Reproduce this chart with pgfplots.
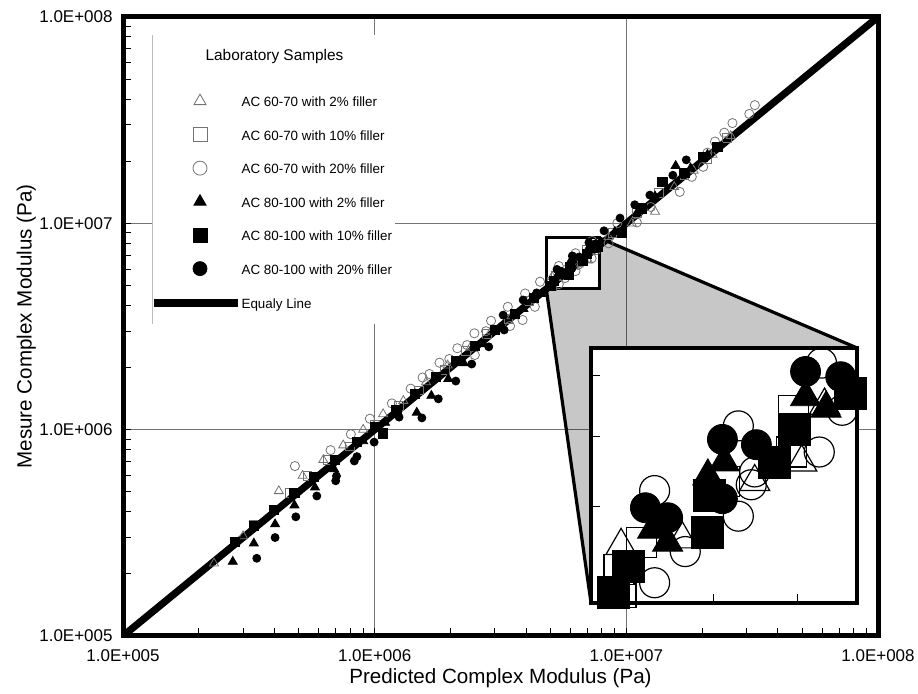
\documentclass[border=0pt]{standalone}
\usepackage{pgfplots}
\usepackage{pgfplotstable}
\pgfplotsset{compat=1.18}
\usepackage{fontspec}
\setmainfont{Liberation Sans}

% AC 60-70 with 2% filler (open triangles)
\pgfplotstableread{
x y
2.30e5 2.25e5
3.00e5 3.05e5
4.16e5 5.04e5
5.17e5 5.98e5
6.25e5 7.13e5
7.50e5 8.40e5
9.00e5 1.00e6
1.08e6 1.19e6
1.30e6 1.38e6
1.60e6 1.70e6
1.95e6 2.05e6
2.40e6 2.50e6
2.90e6 3.00e6
3.50e6 3.55e6
4.30e6 4.40e6
5.07e6 5.50e6
5.67e6 5.58e6
6.47e6 6.33e6
7.05e6 6.61e6
7.35e6 7.49e6
8.50e6 8.60e6
1.05e7 1.00e7
1.30e7 1.14e7
1.55e7 1.50e7
1.85e7 1.80e7
2.20e7 2.15e7
2.60e7 2.65e7
}\tA
% AC 60-70 with 10% filler (open squares)
\pgfplotstableread{
x y
3.30e5 3.45e5
4.60e5 4.94e5
5.40e5 5.98e5
6.50e5 7.13e5
8.00e5 8.30e5
1.00e6 1.05e6
1.25e6 1.30e6
1.50e6 1.55e6
1.90e6 1.95e6
2.30e6 2.40e6
2.80e6 2.90e6
3.40e6 3.45e6
4.10e6 4.20e6
5.05e6 5.22e6
5.07e6 4.96e6
5.26e6 5.54e6
6.12e6 6.33e6
6.92e6 6.76e6
6.95e6 7.41e6
8.80e6 9.00e6
1.10e7 1.12e7
1.35e7 1.40e7
1.70e7 1.72e7
2.10e7 2.05e7
2.50e7 2.60e7
}\tB
% AC 60-70 with 20% filler (open circles)
\pgfplotstableread{
x y
4.82e5 6.66e5
6.68e5 7.96e5
8.04e5 9.50e5
9.57e5 1.13e6
1.17e6 1.34e6
1.39e6 1.58e6
1.55e6 1.79e6
1.65e6 1.86e6
1.81e6 2.11e6
1.98e6 2.20e6
2.13e6 2.48e6
2.33e6 2.57e6
2.49e6 2.93e6
2.50e6 2.30e6
2.77e6 3.00e6
2.90e6 3.37e6
3.38e6 3.94e6
3.45e6 3.18e6
3.87e6 3.40e6
3.96e6 4.57e6
4.33e6 3.94e6
4.54e6 5.21e6
5.39e6 5.07e6
5.39e6 6.21e6
5.70e6 5.43e6
6.28e6 5.87e6
6.28e6 7.16e6
6.43e6 6.29e6
6.47e6 6.47e6
7.28e6 6.76e6
7.31e6 8.22e6
7.59e6 7.41e6
8.50e6 8.00e6
9.20e6 1.00e7
1.10e7 1.01e7
1.25e7 1.20e7
1.63e7 1.42e7
1.82e7 1.68e7
2.02e7 1.88e7
2.10e7 2.20e7
2.25e7 2.49e7
2.45e7 2.75e7
2.64e7 3.06e7
3.08e7 3.39e7
3.24e7 3.74e7
}\tC
% AC 80-100 with 2% filler (filled triangles)
\pgfplotstableread{
x y
2.73e5 2.29e5
3.31e5 2.81e5
4.02e5 3.48e5
4.80e5 4.30e5
5.79e5 5.25e5
6.90e5 6.43e5
9.00e5 8.80e5
1.10e6 1.08e6
1.47e6 1.21e6
1.68e6 1.46e6
1.96e6 1.76e6
2.26e6 2.10e6
2.70e6 2.60e6
3.20e6 3.15e6
3.90e6 3.85e6
4.60e6 4.55e6
5.37e6 5.70e6
5.52e6 5.54e6
5.94e6 6.41e6
6.12e6 6.61e6
7.10e6 7.63e6
7.37e6 7.44e6
9.00e6 9.10e6
1.10e7 1.12e7
1.30e7 1.35e7
1.57e7 1.90e7
1.80e7 1.85e7
2.10e7 2.15e7
}\tD
% AC 80-100 with 10% filler (filled squares)
\pgfplotstableread{
x y
2.79e5 2.87e5
3.31e5 3.42e5
3.99e5 4.10e5
4.80e5 4.95e5
5.75e5 5.90e5
6.97e5 7.15e5
8.47e5 8.70e5
1.00e6 1.03e6
1.08e6 9.60e5
1.22e6 1.25e6
1.45e6 1.49e6
1.75e6 1.80e6
2.10e6 2.15e6
2.50e6 2.55e6
3.00e6 3.05e6
3.60e6 3.65e6
4.30e6 4.35e6
5.00e6 4.96e6
5.14e6 5.26e6
5.93e6 5.66e6
5.96e6 6.14e6
6.71e6 6.61e6
6.96e6 7.11e6
7.70e6 7.70e6
9.57e6 9.00e6
1.15e7 1.18e7
1.39e7 1.59e7
1.70e7 1.75e7
2.02e7 2.10e7
2.30e7 2.35e7
}\tE
% AC 80-100 with 20% filler (filled circles)
\pgfplotstableread{
x y
3.40e5 2.38e5
4.02e5 3.00e5
4.86e5 3.78e5
5.89e5 4.77e5
7.00e5 5.65e5
7.05e5 5.96e5
8.30e5 7.05e5
8.50e5 7.40e5
9.95e5 8.70e5
1.25e6 1.15e6
1.54e6 1.14e6
1.79e6 1.41e6
2.10e6 1.72e6
2.43e6 2.08e6
2.84e6 2.52e6
3.24e6 3.59e6
3.27e6 3.04e6
3.89e6 4.25e6
4.40e6 4.60e6
5.30e6 5.98e6
5.52e6 5.85e6
6.10e6 6.10e6
6.10e6 6.95e6
6.49e6 6.87e6
7.10e6 8.07e6
7.57e6 7.98e6
8.15e6 9.20e6
9.44e6 1.06e7
1.08e7 1.23e7
1.24e7 1.37e7
1.53e7 1.71e7
1.73e7 2.03e7
}\tF

\pgfplotsset{
  lgmark/.style={legend image code/.code={%
    \path (-44pt,-2pt) (-4.5pt,4pt);
    \draw[mark repeat=2,mark phase=2,mark size=3.5pt] plot coordinates {(-44pt,1pt) (-23.5pt,1pt) (-3pt,1pt)};}},
}

\begin{document}
\begin{tikzpicture}
\begin{axis}[
  scale only axis, width=377.5pt, height=309.5pt,
  xmode=log, ymode=log,
  xmin=1e5, xmax=1e8, ymin=1e5, ymax=1e8,
  xtick={1e5,1e6,1e7,1e8}, ytick={1e5,1e6,1e7,1e8},
  xticklabels={1.0E+005,1.0E+006,1.0E+007,1.0E+008},
  yticklabels={1.0E+005,1.0E+006,1.0E+007,1.0E+008},
  minor xtick={2e5,3e5,4e5,5e5,6e5,7e5,8e5,9e5,2e6,3e6,4e6,5e6,6e6,7e6,8e6,9e6,2e7,3e7,4e7,5e7,6e7,7e7,8e7,9e7},
  minor ytick={2e5,3e5,4e5,5e5,6e5,7e5,8e5,9e5,2e6,3e6,4e6,5e6,6e6,7e6,8e6,9e6,2e7,3e7,4e7,5e7,6e7,7e7,8e7,9e7},
  tick pos=left, tick align=inside,
  major tick length=4pt, minor tick length=4pt,
  tick style={black, line width=0.5pt},
  grid=major, major grid style={black!55, line width=0.5pt},
  axis line style={line width=2.5pt, line join=miter},
  xticklabel style={anchor=center, inner sep=0pt, yshift=-10pt, font=\fontsize{8.5pt}{10pt}\selectfont},
  yticklabel style={anchor=east, inner sep=0pt, xshift=-5pt, font=\fontsize{8.5pt}{10pt}\selectfont},
  xlabel={Predicted Complex Modulus (Pa)},
  ylabel={Mesure Complex Modulus (Pa)},
  every axis x label/.style={at={(axis description cs:0.5,-0.068)}, anchor=center, font=\fontsize{10.3pt}{12pt}\selectfont},
  every axis y label/.style={at={(axis description cs:-0.128,0.5)}, anchor=center, rotate=90, font=\fontsize{10.3pt}{12pt}\selectfont},
  legend style={
    at={(rel axis cs:0.0384,0.971)}, anchor=north west,
    fill=white, draw=none,
    inner xsep=1.5pt, inner ysep=6.5pt,
    font=\fontsize{6.7pt}{8pt}\selectfont,
    row sep=9pt,
    nodes={inner sep=0pt, text height=5pt, text depth=1.5pt},
    path picture={\draw[black!40, line width=1pt] (path picture bounding box.north west) -- (path picture bounding box.south west);},
  },
  legend cell align=left,
]
% gray magnifier wedge
\fill[black, fill opacity=0.22] (axis cs:4.8e6,4.85e6) -- (axis cs:7.8e6,4.85e6) -- (axis cs:7.8e6,8.5e6) -- (rel axis cs:0.9722,0.4653) -- (rel axis cs:0.6199,0.0533) -- cycle;
\draw[line width=1.6pt] (axis cs:4.8e6,4.85e6) -- (rel axis cs:0.6199,0.0533);
\draw[line width=1.6pt] (axis cs:7.8e6,8.5e6) -- (rel axis cs:0.9722,0.4653);
\draw[line width=1.5pt] (axis cs:4.8e6,4.85e6) rectangle (axis cs:7.8e6,8.5e6);

\addlegendimage{legend image code/.code={\path (-44pt,-9.5pt) (-4.5pt,4pt);}}
\addlegendentry{\fontsize{7.7pt}{9pt}\selectfont\hspace*{-18pt}Laboratory Samples}

\addplot[only marks, mark=triangle, mark size=2.6pt, mark options={draw=black!55, line width=0.4pt}, lgmark] table {\tA};
\addlegendentry{AC 60-70 with 2\% filler}
\addplot[only marks, mark=square, mark size=2.2pt, mark options={draw=black!55, line width=0.4pt}, lgmark] table {\tB};
\addlegendentry{AC 60-70 with 10\% filler}
\addplot[only marks, mark=o, mark size=2.3pt, mark options={draw=black!55, line width=0.4pt}, lgmark] table {\tC};
\addlegendentry{AC 60-70 with 20\% filler}
\addplot[only marks, mark=triangle*, mark size=2.6pt, mark options={black}, lgmark] table {\tD};
\addlegendentry{AC 80-100 with 2\% filler}
\addplot[only marks, mark=square*, mark size=2.3pt, mark options={black}, lgmark] table {\tE};
\addlegendentry{AC 80-100 with 10\% filler}
\addplot[only marks, mark=*, mark size=2pt, mark options={black}, lgmark] table {\tF};
\addlegendentry{AC 80-100 with 20\% filler}
\addplot[black, line width=3.6pt, legend image code/.code={\path (-44pt,-1pt) (-4.5pt,3pt); \draw[overlay, line width=4pt] (-46.5pt,1pt) -- (-4.5pt,1pt);}] coordinates {(1e5,1e5) (1e8,1e8)};
\addlegendentry{Equaly Line}
\end{axis}

\begin{axis}[
  at={(234pt,16.5pt)}, anchor=south west,
  scale only axis, width=133pt, height=127.5pt,
  xmode=log, ymode=log,
  xmin=4.8e6, xmax=7.8e6, ymin=4.85e6, ymax=8.5e6,
  xtick={6e6,7e6}, ytick={6e6,7e6,8e6},
  minor xtick={}, minor ytick={},
  xticklabels={}, yticklabels={},
  tick pos=left, tick align=inside, major tick length=4.5pt,
  tick style={black, line width=0.5pt},
  axis background/.style={fill=white},
  axis line style={line width=2pt, line join=miter},
]
\addplot[only marks, mark=triangle, mark size=8.7pt, mark options={draw=black, line width=0.6pt}] table {\tA};
\addplot[only marks, mark=square, mark size=7.5pt, mark options={draw=black, line width=0.6pt}] table {\tB};
\addplot[only marks, mark=o, mark size=7.5pt, mark options={draw=black, line width=0.6pt}] table {\tC};
\addplot[only marks, mark=triangle*, mark size=8.7pt, mark options={black}] table {\tD};
\addplot[only marks, mark=square*, mark size=8pt, mark options={black}] table {\tE};
\addplot[only marks, mark=*, mark size=7.5pt, mark options={black}] table {\tF};
\end{axis}
\pgfresetboundingbox
\path (-61.5pt,-29pt) rectangle (397.5pt,318pt);
\end{tikzpicture}
\end{document}
